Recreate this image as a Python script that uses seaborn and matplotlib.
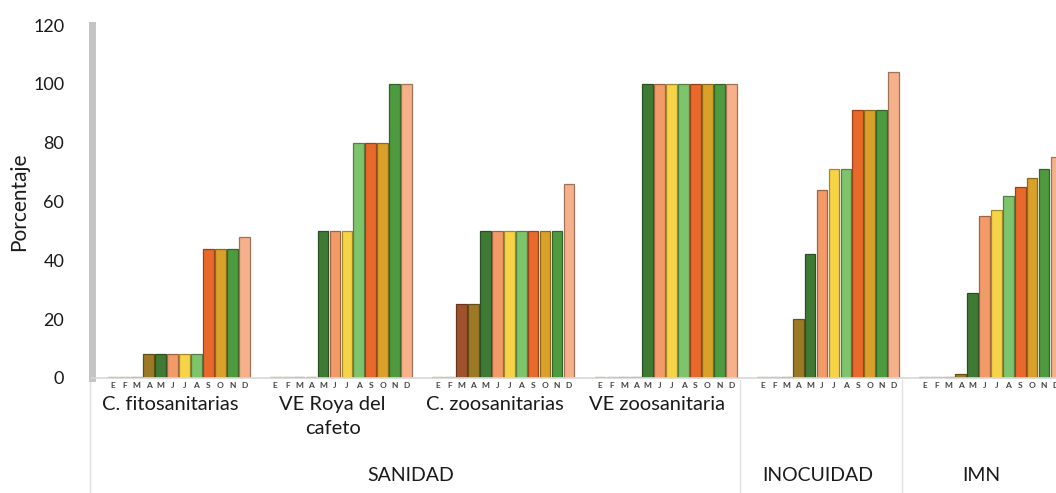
import numpy as np
import pandas as pd
import matplotlib
matplotlib.use("Agg")
import matplotlib.pyplot as plt
import matplotlib.colors as mcolors
import matplotlib.transforms as mtransforms
import seaborn as sns

# ---- data ----
months = ["E", "F", "M", "A", "M", "J", "J", "A", "S", "O", "N", "D"]
groups = ["C. fitosanitarias", "VE Roya del\ncafeto", "C. zoosanitarias",
          "VE zoosanitaria", "", ""]
categories = ["SANIDAD", "INOCUIDAD", "IMN"]

c_fito = [0.5, 0.5, 0.5, 8, 8, 8, 8, 8, 44, 44, 44, 48]
ve_roya = [0.5, 0.5, 0.5, 0.5, 50, 50, 50, 80, 80, 80, 100, 100]
c_zoo = [0.5, 0.5, 25, 25, 50, 50, 50, 50, 50, 50, 50, 66]
ve_zoo = [0.5, 0.5, 0.5, 0.5, 100, 100, 100, 100, 100, 100, 100, 100]
inocuidad = [0.5, 0.5, 0.5, 20, 42, 64, 71, 71, 91, 91, 91, 104]
imn = [0.5, 0.5, 0.5, 1.5, 29, 55, 57, 62, 65, 68, 71, 75]
series = [c_fito, ve_roya, c_zoo, ve_zoo, inocuidad, imn]

month_colors = ["#E0A030", "#7CBF5A", "#A0522D", "#9C7A25", "#3F7A35", "#F29A68",
                "#F7D347", "#7EC46C", "#E8692B", "#D9A12A", "#4E9A3E", "#F6B08A"]

# ---- layout ----
GSTEP = 13.6
rows = []
for g, vals in enumerate(series):
    for m, v in enumerate(vals):
        rows.append({"pos": g * GSTEP + m, "value": v, "mes": f"{m:02d}"})
df = pd.DataFrame(rows)
palette = {f"{m:02d}": c for m, c in enumerate(month_colors)}

sns.set_theme(style="white")
plt.rcParams["font.family"] = ["Lato", "DejaVu Sans"]

fig = plt.figure(figsize=(10.56, 4.93), dpi=100)
ax = fig.add_axes([92 / 1056, 115 / 493, 964 / 1056, 353 / 493])

sns.barplot(data=df, x="pos", y="value", hue="mes", palette=palette,
            native_scale=True, dodge=False, width=0.9, legend=False,
            errorbar=None, ax=ax, saturation=1)

for p in ax.patches:
    fc = np.array(mcolors.to_rgb(p.get_facecolor()))
    p.set_edgecolor(tuple(fc * 0.65))
    p.set_linewidth(0.9)

ax.set_xlim(-1.75, 78.8)
ax.set_ylim(0, 120)
ax.set_yticks([0, 20, 40, 60, 80, 100, 120])
ax.tick_params(axis="y", labelsize=13, length=0, pad=20, labelcolor="#1a1a1a")

ax.set_xticks(df["pos"].values)
ax.set_xticklabels(months * len(series), fontsize=6, fontweight="bold",
                   color="#444444")
ax.tick_params(axis="x", length=0, pad=3)
ax.set_xlabel("")
ax.set_ylabel("Porcentaje", fontsize=15, labelpad=3, color="#1a1a1a")

for s in ["top", "right"]:
    ax.spines[s].set_visible(False)
ax.spines["left"].set_color("#c4c4c4")
ax.spines["left"].set_linewidth(5)
ax.spines["bottom"].set_color("#d8d8d8")
ax.spines["bottom"].set_linewidth(1.2)

trans = mtransforms.blended_transform_factory(ax.transData, ax.transAxes)
for g, name in enumerate(groups):
    if name:
        cx = g * GSTEP + 4.8
        ax.text(cx, -0.05, name, transform=trans, ha="center", va="top",
                fontsize=14.5, color="#1a1a1a", linespacing=1.5)

cat_x = [(412 - 113) / 12, (822 - 113) / 12, (986 - 113) / 12]
for name, cx in zip(categories, cat_x):
    ax.text(cx, -0.275, name, transform=trans, ha="center", va="center",
            fontsize=14, color="#1a1a1a")

for xa in [-0.002, (740 - 92) / 964, (902 - 92) / 964]:
    ax.plot([xa, xa], [-0.006, -0.33], transform=ax.transAxes, color="#e0e0e0",
            lw=1, clip_on=False)

fig.savefig("out.png", dpi=100)
